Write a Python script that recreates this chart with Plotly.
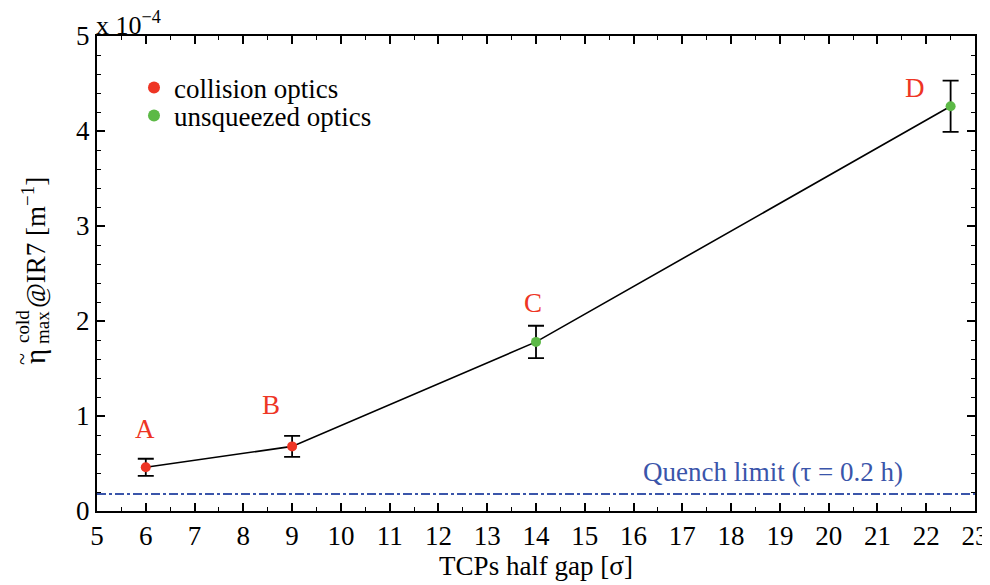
import plotly.graph_objects as go

# Data (values in units of 1e-4 m^-1)
half_gap = [6, 9, 14, 22.5]
eta = [0.46, 0.68, 1.78, 4.26]
eta_err = [0.09, 0.11, 0.17, 0.27]
point_labels = ["A", "B", "C", "D"]
optics = ["collision", "collision", "unsqueezed", "unsqueezed"]
label_x = [5.98, 8.57, 13.94, 21.77]
label_y = [0.86, 1.12, 2.19, 4.45]
quench_limit = 0.18
x_ticks = list(range(5, 24))
y_ticks = [0, 1, 2, 3, 4, 5]

RED = "#ee3524"
GREEN = "#5cb946"
BLUE = "#3a55aa"
FONT = "Liberation Serif"

OFF = 8  # page body margin offset
W, H = 990 - OFF, 585 - OFF
ML, MR, MT, MB = 97 - OFF, 15, 36 - OFF, 74
PW, PH = W - ML - MR, H - MT - MB


def px(xs):
    """screen pixel x -> paper x"""
    return (xs - OFF - ML) / PW


def py(ys):
    """screen pixel y -> paper y"""
    return (H - MB - (ys - OFF)) / PH


fig = go.Figure()

fig.add_hline(y=quench_limit, line=dict(color=BLUE, width=2, dash="dashdot"))

fig.add_trace(go.Scatter(x=half_gap, y=eta, mode="lines",
                         line=dict(color="black", width=1.6), showlegend=False,
                         hoverinfo="skip"))

legend_names = ["legend", "legend2"]
for (name, col, key), lg in zip([("collision optics", RED, "collision"),
                                 ("unsqueezed optics", GREEN, "unsqueezed")], legend_names):
    idx = [i for i, o in enumerate(optics) if o == key]
    fig.add_trace(go.Scatter(
        x=[half_gap[i] for i in idx], y=[eta[i] for i in idx],
        mode="markers", name=name, legend=lg,
        marker=dict(color=col, size=10),
        error_y=dict(type="data", array=[eta_err[i] for i in idx],
                     color="black", thickness=1.8, width=8),
    ))

for lx, ly, t in zip(label_x, label_y, point_labels):
    fig.add_annotation(x=lx, y=ly, text=t, showarrow=False,
                       font=dict(family=FONT, size=27, color=RED))

fig.add_annotation(x=18.86, y=0.41, text="Quench limit (τ = 0.2 h)", showarrow=False,
                   font=dict(family=FONT, size=27, color=BLUE))

fig.add_annotation(xref="paper", yref="paper", x=0, y=1, xanchor="left", yanchor="bottom",
                   xshift=-3, yshift=-6,
                   text="x 10<sup>−4</sup>", showarrow=False,
                   font=dict(family=FONT, size=26, color="black"))

# y-axis title built from pieces (stacked super/subscript), screen pixel positions
ytitle_parts = [
    ("η", 35, 357, 29),
    ("~", 22, 359, 22),
    ("cold", 22, 327, 19),
    ("max", 42, 327, 19),
    ("@IR7 [m<sup>−1</sup>]", 34, 243, 27),
]
for txt, xs, ys, fs in ytitle_parts:
    fig.add_annotation(xref="paper", yref="paper", x=px(xs), y=py(ys),
                       xanchor="center", yanchor="middle", textangle=-90,
                       text=txt, showarrow=False, borderpad=0,
                       font=dict(family=FONT, size=fs, color="black"))

axis_common = dict(showgrid=False, zeroline=False, showline=True, linecolor="black",
                   linewidth=2, mirror="ticks", ticks="inside", ticklen=8,
                   tickwidth=1.5, tickcolor="black", automargin=False,
                   tickfont=dict(family=FONT, size=27, color="black"))

fig.update_xaxes(range=[5, 23], tickvals=x_ticks,
                 minor=dict(ticks="inside", ticklen=4, tickwidth=1.2, dtick=0.5, tickcolor="black"),
                 title=dict(text="TCPs half gap [σ]", font=dict(family=FONT, size=27, color="black"),
                            standoff=4),
                 **axis_common)
fig.update_yaxes(range=[0, 5], tickvals=y_ticks,
                 minor=dict(ticks="inside", ticklen=4, tickwidth=1.2, dtick=0.2, tickcolor="black"),
                 **axis_common)

leg_common = dict(x=px(134), xanchor="left", yanchor="middle",
                  bgcolor="rgba(0,0,0,0)", font=dict(family=FONT, size=27, color="black"),
                  itemsizing="constant")

fig.update_layout(
    width=W, height=H,
    margin=dict(l=ML, r=MR, t=MT, b=MB),
    plot_bgcolor="white", paper_bgcolor="white",
    legend=dict(y=py(88), **leg_common),
    legend2=dict(y=py(116), **leg_common),
    showlegend=True,
)

fig.write_html("out.html")
